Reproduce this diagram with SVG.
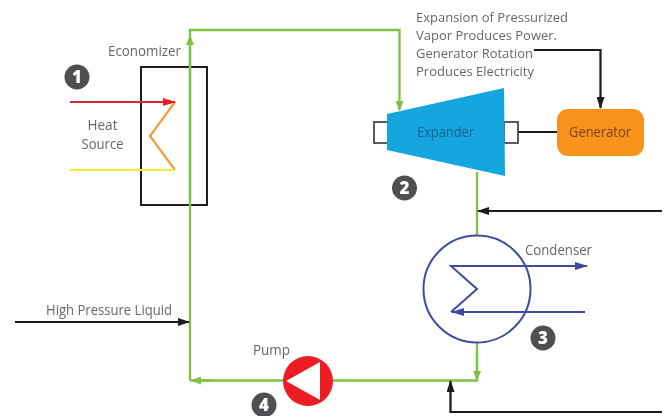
<svg xmlns="http://www.w3.org/2000/svg" width="667" height="416" viewBox="0 0 667 416">
<style>
text{font-family:"Open Sans","Noto Sans","Liberation Sans",sans-serif;font-size:14px;fill:#666}
.d{font-size:12.800px}
.c{fill:none;stroke-linejoin:miter}
.g{stroke:#7dc242;stroke-width:2.300}
.k{stroke:#1a1a1a;stroke-width:2.200}
.b{stroke:#3f4ba0;stroke-width:2}
.badge{fill:#505052}
.n{font-size:17px;font-weight:800;fill:#fff;text-anchor:middle}
</style>
<defs>
<marker id="ag" markerWidth="10" markerHeight="8" refX="9" refY="4" orient="auto" markerUnits="userSpaceOnUse"><path d="M0 0L10 4L0 8Z" fill="#7dc242"/></marker>
<marker id="ak" markerWidth="12" markerHeight="8" refX="11" refY="4" orient="auto" markerUnits="userSpaceOnUse"><path d="M0 0L12 4L0 8Z" fill="#1a1a1a"/></marker>
<marker id="ab" markerWidth="13" markerHeight="8" refX="12" refY="4" orient="auto" markerUnits="userSpaceOnUse"><path d="M0 0L13 4L0 8Z" fill="#3f4ba0"/></marker>
<marker id="ar" markerWidth="13" markerHeight="8" refX="12" refY="4" orient="auto" markerUnits="userSpaceOnUse"><path d="M0 0L13 4L0 8Z" fill="#ed1c24"/></marker>
<filter id="soft" x="0" y="0" width="100%" height="100%"><feGaussianBlur stdDeviation="0.5"/></filter>
</defs>
<rect width="667" height="416" fill="#fff"/>
<g filter="url(#soft)">
<g id="economizer">
<rect x="141" y="67" width="66" height="138" fill="none" stroke="#231f20" stroke-width="2"/>
<text x="108" y="56" textLength="73" lengthAdjust="spacingAndGlyphs">Economizer</text>
<path class="c" d="M175 102L150 136L175 170" stroke="#ee9a3c" stroke-width="2.200"/>
</g>
<g id="heat-source">
<path class="c" d="M70 102H175" stroke="#d9283a" stroke-width="2" marker-end="url(#ar)"/>
<path class="c" d="M70 170H175" stroke="#f7e93a" stroke-width="2"/>
<text x="102.500" y="130" text-anchor="middle" textLength="30" lengthAdjust="spacingAndGlyphs">Heat</text>
<text x="102.500" y="149" text-anchor="middle" textLength="42" lengthAdjust="spacingAndGlyphs">Source</text>
</g>
<g id="connectors">
<path class="c g" d="M190 380V30H399.500V110" marker-end="url(#ag)"/>
<path class="c g" d="M190 200V36" marker-end="url(#ag)"/>
<path class="c g" d="M477 172V236"/>
<path class="c g" d="M477 342V380.500H190"/>
<path class="c g" d="M477 350V380" marker-end="url(#ag)"/>
<path class="c g" d="M210 380.500H192" marker-end="url(#ag)"/>
<path class="c k" d="M534 50H600.500V108" marker-end="url(#ak)"/>
<path class="c k" d="M518 132H557"/>
<path class="c k" d="M662 211H478" marker-end="url(#ak)"/>
<path class="c k" d="M662 412H450.500V381" marker-end="url(#ak)"/>
<path class="c k" d="M15 322H189" marker-end="url(#ak)"/>
</g>
<g id="expander">
<rect x="374" y="122" width="14" height="21" fill="#fff" stroke="#404042" stroke-width="1.700"/>
<rect x="504" y="122" width="14" height="21" fill="#fff" stroke="#404042" stroke-width="1.700"/>
<path d="M387 114L504 88L505 176L387 150Z" fill="#16a6df"/>
<text x="417" y="137" textLength="57" lengthAdjust="spacingAndGlyphs" style="fill:#14608f">Expander</text>
</g>
<g id="generator">
<rect x="557" y="109" width="87" height="47" rx="11" fill="#f7931e"/>
<text x="569" y="137" textLength="62" lengthAdjust="spacingAndGlyphs" style="fill:#7d4410">Generator</text>
</g>
<g id="description">
<text class="d" x="416" y="21.500" textLength="152" lengthAdjust="spacingAndGlyphs">Expansion of Pressurized</text>
<text class="d" x="416" y="39.500" textLength="141" lengthAdjust="spacingAndGlyphs">Vapor Produces Power.</text>
<text class="d" x="416" y="57.500" textLength="117" lengthAdjust="spacingAndGlyphs">Generator Rotation</text>
<text class="d" x="416" y="75.500" textLength="118" lengthAdjust="spacingAndGlyphs">Produces Electricity</text>
</g>
<g id="condenser">
<circle cx="477" cy="289" r="53.500" fill="none" stroke="#3f4ba0" stroke-width="2"/>
<path class="c b" d="M451 312L477 289L451 266H587" marker-end="url(#ab)"/>
<path class="c b" d="M585 312H452" marker-end="url(#ab)"/>
<text x="525" y="255" textLength="67" lengthAdjust="spacingAndGlyphs">Condenser</text>
</g>
<g id="pump">
<circle cx="308" cy="381" r="25" fill="#ed1c24"/>
<path d="M286 381L320 362V400Z" fill="#fff"/>
<text x="253" y="355" textLength="37" lengthAdjust="spacingAndGlyphs">Pump</text>
</g>
<g id="high-pressure-liquid">
<text x="46" y="315" textLength="126" lengthAdjust="spacingAndGlyphs">High Pressure Liquid</text>
</g>
<g id="badge-1"><circle class="badge" cx="77" cy="77" r="12.500"/><text class="n" x="77" y="83">1</text></g>
<g id="badge-2"><circle class="badge" cx="404.500" cy="188" r="12.500"/><text class="n" x="404.500" y="194">2</text></g>
<g id="badge-3"><circle class="badge" cx="543" cy="338" r="12.500"/><text class="n" x="543" y="344">3</text></g>
<g id="badge-4"><circle class="badge" cx="264" cy="405" r="12.500"/><text class="n" x="264" y="411">4</text></g>
</g>
</svg>
